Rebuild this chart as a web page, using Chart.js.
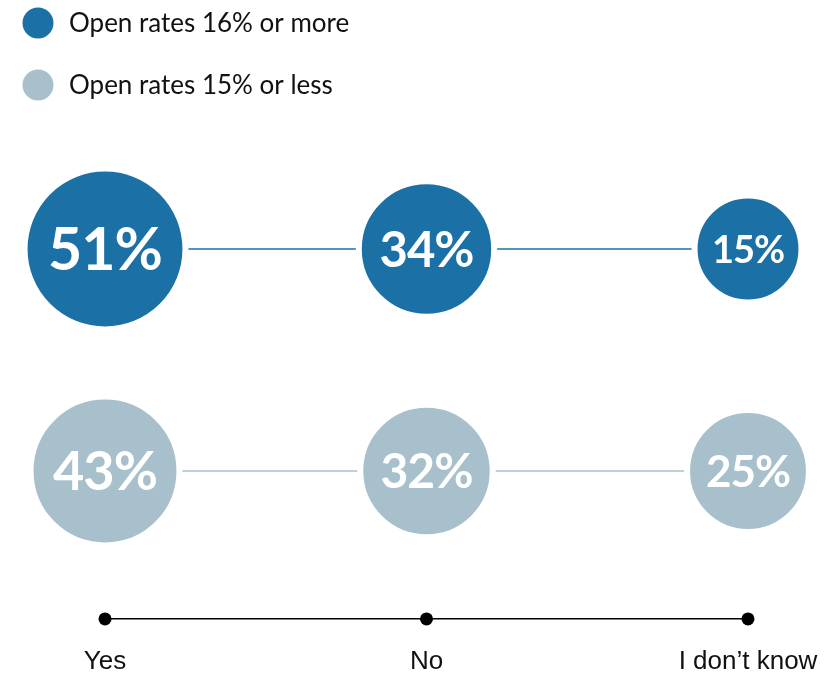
<!DOCTYPE html>
<html><head><meta charset="utf-8">
<script src="https://cdn.jsdelivr.net/npm/chart.js@4"></script>
<style>html,body{margin:0;padding:0;background:#fff}canvas{display:block}</style>
</head><body>
<canvas id="c" width="834" height="673"></canvas>
<script>
const categories = ['Yes', 'No', 'I don\u2019t know'];
const seriesNames = ['Open rates 16% or more', 'Open rates 15% or less'];
const highOpenRates = [51, 34, 15];
const lowOpenRates = [43, 32, 25];
const seriesColors = ['#1b70a6', '#a8c0cb'];
const seriesRows = [2, 1];

const radiusFor = v => 39.2 + 0.75 * v;

function makeDataset(name, values, color, row) {
  return {
    label: name,
    data: values.map((v, i) => ({ x: categories[i], y: row, v: v })),
    showLine: true,
    borderColor: color,
    borderWidth: 1.5,
    pointBackgroundColor: color,
    pointBorderColor: '#ffffff',
    pointBorderWidth: 6,
    pointRadius: ctx => radiusFor(ctx.raw.v) + 3,
    pointHoverRadius: ctx => radiusFor(ctx.raw.v) + 3,
    clip: false
  };
}

const legendPlugin = {
  id: 'customLegend',
  afterDraw(chart) {
    const ctx = chart.ctx;
    ctx.save();
    chart.data.datasets.forEach((ds, i) => {
      const cy = 23 + i * 62;
      ctx.beginPath();
      ctx.arc(38, cy, 15.5, 0, Math.PI * 2);
      ctx.fillStyle = ds.pointBackgroundColor;
      ctx.fill();
      ctx.fillStyle = '#111';
      ctx.font = '400 26px Lato';
      ctx.textBaseline = 'middle';
      ctx.textAlign = 'left';
      ctx.fillText(ds.label, 69, cy + 1);
    });
    ctx.restore();
  }
};

const valueLabels = {
  id: 'valueLabels',
  afterDatasetsDraw(chart) {
    const ctx = chart.ctx;
    ctx.save();
    chart.data.datasets.forEach((ds, di) => {
      const meta = chart.getDatasetMeta(di);
      meta.data.forEach((el, i) => {
        const v = ds.data[i].v;
        const r = radiusFor(v);
        ctx.fillStyle = '#ffffff';
        ctx.font = '700 ' + Math.round(r * 0.76) + 'px Lato';
        ctx.letterSpacing = '-1px';
        ctx.textAlign = 'center';
        ctx.textBaseline = 'middle';
        ctx.fillText(v + '%', el.x, el.y + 2);
      });
    });
    ctx.restore();
  }
};

const axisDots = {
  id: 'axisDots',
  afterDraw(chart) {
    const s = chart.scales.x;
    const ctx = chart.ctx;
    ctx.save();
    ctx.fillStyle = '#000';
    s.ticks.forEach((t, i) => {
      ctx.beginPath();
      ctx.arc(s.getPixelForTick(i), s.top, 6.5, 0, Math.PI * 2);
      ctx.fill();
    });
    ctx.restore();
  }
};

new Chart(document.getElementById('c'), {
  type: 'scatter',
  data: {
    datasets: [
      makeDataset(seriesNames[0], highOpenRates, seriesColors[0], seriesRows[0]),
      makeDataset(seriesNames[1], lowOpenRates, seriesColors[1], seriesRows[1])
    ]
  },
  options: {
    responsive: false,
    animation: false,
    events: [],
    devicePixelRatio: 1,
    layout: { autoPadding: false, padding: { left: 105, right: 86, top: 27, bottom: -32 } },
    plugins: { legend: { display: false }, tooltip: { enabled: false } },
    scales: {
      x: {
        type: 'category',
        labels: categories,
        offset: false,
        grid: { display: false, drawTicks: false },
        border: { display: true, color: '#000', width: 1.5 },
        ticks: { color: '#111', padding: 16, font: { family: 'Liberation Sans', size: 26, lineHeight: 2.08 }, maxRotation: 0, autoSkip: false }
      },
      y: { type: 'linear', display: false, min: 1 / 3, max: 3 }
    }
  },
  plugins: [legendPlugin, valueLabels, axisDots]
});
</script>
</body></html>
